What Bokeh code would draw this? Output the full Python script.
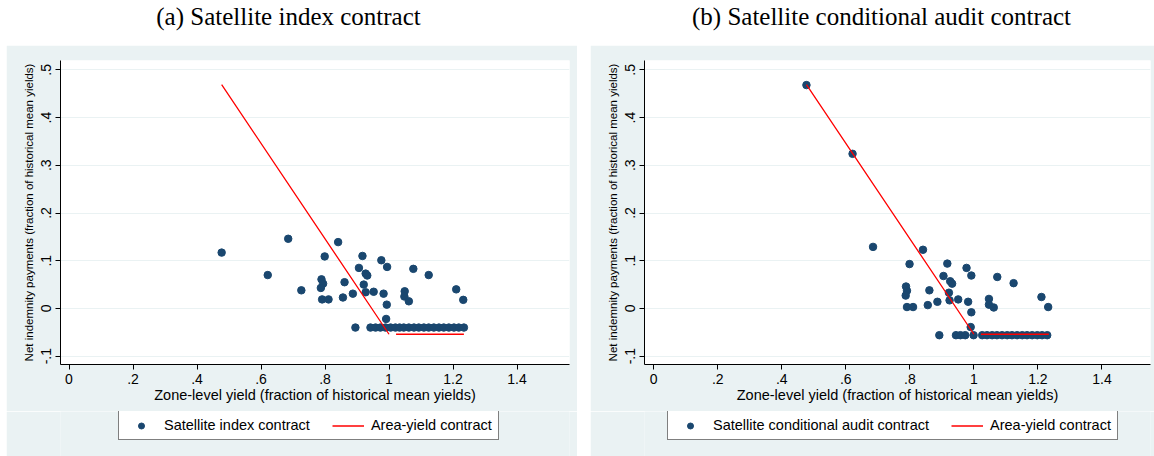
import math

from bokeh.embed import file_html
from bokeh.layouts import column, row
from bokeh.models import FixedTicker, Legend, LegendItem, Range1d, Spacer
from bokeh.plotting import figure
from bokeh.resources import INLINE

# ---- data -------------------------------------------------------------
# zone-level yield (fraction of historical mean) and net indemnity payments
index_x = [0.477, 0.621, 0.685, 0.726, 0.789, 0.794, 0.787, 0.791, 0.811,
           0.799, 0.841, 0.856, 0.861, 0.887, 0.906, 0.917, 0.927, 0.932,
           0.921, 0.927, 0.952, 0.976, 0.994, 0.983, 0.993, 0.991, 1.049,
           1.048, 1.062, 1.076, 1.124, 1.210, 1.232,
           0.895, 0.942, 0.958, 0.973, 0.989, 1.005, 1.020, 1.033, 1.046,
           1.062, 1.078, 1.093, 1.109, 1.124, 1.140, 1.156, 1.171, 1.187,
           1.203, 1.218, 1.234]
index_y = [0.117, 0.070, 0.146, 0.038, 0.061, 0.052, 0.043, 0.019, 0.019,
           0.109, 0.139, 0.023, 0.055, 0.031, 0.085, 0.110, 0.073, 0.069,
           0.050, 0.034, 0.035, 0.101, 0.087, 0.031, 0.008, -0.022, 0.036,
           0.025, 0.015, 0.083, 0.070, 0.040, 0.018,
           -0.040, -0.040, -0.040, -0.040, -0.040, -0.040, -0.040, -0.040,
           -0.040, -0.040, -0.040, -0.040, -0.040, -0.040, -0.040, -0.040,
           -0.040, -0.040, -0.040, -0.040, -0.040]

audit_x = [0.477, 0.621, 0.685, 0.788, 0.791, 0.787, 0.791, 0.810, 0.799,
           0.841, 0.856, 0.861, 0.886, 0.905, 0.917, 0.926, 0.932, 0.922,
           0.924, 0.951, 0.977, 0.992, 0.982, 0.992, 0.990, 1.047, 1.047,
           1.062, 1.073, 1.124, 1.211, 1.232,
           0.892, 0.944, 0.958, 0.973, 0.999, 1.026, 1.041, 1.057, 1.072,
           1.088, 1.104, 1.119, 1.135, 1.151, 1.166, 1.182, 1.198, 1.213,
           1.229]
audit_y = [0.468, 0.324, 0.129, 0.046, 0.037, 0.027, 0.003, 0.003, 0.093,
           0.123, 0.007, 0.038, 0.014, 0.068, 0.094, 0.057, 0.052, 0.033,
           0.017, 0.019, 0.085, 0.069, 0.014, -0.008, -0.039, 0.020, 0.008,
           0.002, 0.066, 0.053, 0.024, 0.003,
           -0.056, -0.056, -0.056, -0.056, -0.056, -0.056, -0.056, -0.056,
           -0.056, -0.056, -0.056, -0.056, -0.056, -0.056, -0.056, -0.056,
           -0.056, -0.056, -0.056]

# area-yield contract schedule (two pieces)
area_x = [0.477, 1.000, math.nan, 1.022, 1.234]
area_y = [0.469, -0.054, math.nan, -0.054, -0.054]

x_ticks = [0, 0.2, 0.4, 0.6, 0.8, 1, 1.2, 1.4]
x_tick_labels = ["0", ".2", ".4", ".6", ".8", "1", "1.2", "1.4"]
y_ticks = [-0.1, 0, 0.1, 0.2, 0.3, 0.4, 0.5]
y_tick_labels = ["-.1", "0", ".1", ".2", ".3", ".4", ".5"]

titles = ["(a) Satellite index contract",
          "(b) Satellite conditional audit contract"]
series_names = ["Satellite index contract",
                "Satellite conditional audit contract"]
line_name = "Area-yield contract"
x_title = "Zone-level yield (fraction of historical mean yields)"
y_title = "Net indemnity payments (fraction of historical mean yields)"

# ---- style ------------------------------------------------------------
PANEL = "#eaf2f3"
NAVY = "#1a476f"
SANS = "Liberation Sans"
SERIF = "Liberation Serif"
DOT = dict(size=7.5, fill_color=NAVY, line_color=NAVY)
RED = dict(line_color="red", line_width=1.3)


def title_fig(text, width, left_pad):
    t = figure(width=width, height=45, output_backend="svg",
               toolbar_location=None, x_axis_location=None,
               y_axis_location=None, min_border_left=left_pad,
               min_border_right=0, min_border_top=0, min_border_bottom=0,
               title=text)
    t.title.align = "center"
    t.title.text_font = SERIF
    t.title.text_font_size = "25px"
    t.title.text_font_style = "normal"
    t.title.text_color = "black"
    t.title.offset = 0
    t.title.standoff = 0
    t.outline_line_color = None
    t.grid.visible = False
    t.background_fill_color = "white"
    t.border_fill_color = "white"
    return t


def panel(xs, ys, width, left, right, x_lo, x_hi):
    p = figure(width=width, height=366, output_backend="svg",
               toolbar_location=None, x_range=(x_lo, x_hi),
               y_range=(-0.1174, 0.5195), min_border_left=left,
               min_border_right=right, min_border_top=15,
               min_border_bottom=47)
    p.border_fill_color = PANEL
    p.background_fill_color = "white"
    p.outline_line_color = None

    p.scatter(xs, ys, **DOT)
    p.line(area_x, area_y, **RED)

    p.xgrid.visible = False
    p.ygrid.grid_line_color = PANEL
    p.ygrid.grid_line_width = 1.2

    p.xaxis.ticker = FixedTicker(ticks=x_ticks)
    p.xaxis.major_label_overrides = dict(zip(x_ticks, x_tick_labels))
    p.yaxis.ticker = FixedTicker(ticks=y_ticks)
    p.yaxis.major_label_overrides = dict(zip(y_ticks, y_tick_labels))
    p.yaxis.major_label_orientation = "vertical"

    for ax in (p.xaxis[0], p.yaxis[0]):
        ax.axis_line_color = "black"
        ax.major_tick_line_color = "black"
        ax.major_tick_in = 0
        ax.major_tick_out = 5
        ax.minor_tick_line_color = None
        ax.major_label_text_font = SANS
        ax.major_label_text_font_size = "14px"
        ax.major_label_text_color = "black"
        ax.axis_label_text_font = SANS
        ax.axis_label_text_font_style = "normal"
        ax.axis_label_text_color = "black"

    p.xaxis.axis_label = x_title
    p.xaxis.axis_label_text_font_size = "14.5px"
    p.xaxis.major_label_standoff = 4
    p.xaxis.axis_label_standoff = 0
    p.yaxis.axis_label = y_title
    p.yaxis.axis_label_text_font_size = "11.5px"
    p.yaxis.major_label_standoff = 4
    p.yaxis.axis_label_standoff = 4
    return p


def legend_strip(name, width, offset_x):
    # key strip under the panel; its swatch renderers sit outside the view
    g = figure(width=width, height=45, output_backend="svg",
               toolbar_location=None, x_axis_location=None,
               y_axis_location=None, min_border=0,
               x_range=Range1d(0, 1), y_range=Range1d(0, 1))
    g.border_fill_color = PANEL
    g.background_fill_color = PANEL
    g.outline_line_color = None
    g.grid.visible = False
    dots = g.scatter([-5], [-5], **DOT)
    line = g.line([-5, -4], [-5, -5], **RED)
    legend = Legend(
        items=[LegendItem(label=name, renderers=[dots]),
               LegendItem(label=line_name, renderers=[line])],
        orientation="horizontal", location=(offset_x, 16), margin=0,
        padding=6, spacing=22, glyph_width=32, glyph_height=15,
        label_height=15, label_standoff=7,
        label_text_font=SANS, label_text_font_size="14.5px",
        label_text_color="black",
        border_line_color="black", border_line_width=1,
        background_fill_color="white", background_fill_alpha=1.0)
    g.add_layout(legend, "center")
    return g


fig_a = panel(index_x, index_y, 571, 54, 8, -0.0266, 1.564)
fig_b = panel(audit_x, audit_y, 564, 54, 4, -0.0288, 1.5516)
key_a = legend_strip(series_names[0], 571, 58)
key_b = legend_strip(series_names[1], 564, 23)

head = row(title_fig(titles[0], 576, 0), title_fig(titles[1], 578, 32))
body = row(Spacer(width=6, height=411), column(fig_a, key_a),
           Spacer(width=13, height=411), column(fig_b, key_b))
page = column(head, body)

open("out.html", "w").write(file_html(page, INLINE))
